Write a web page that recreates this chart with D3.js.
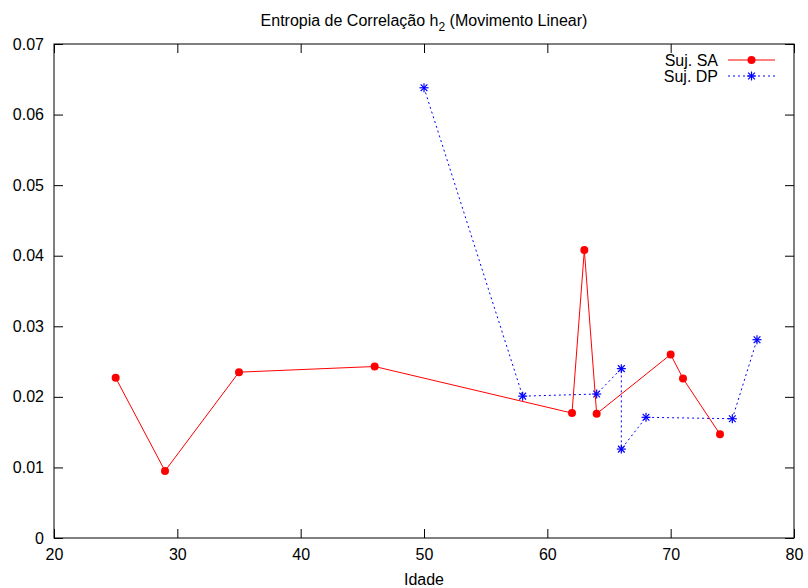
<!DOCTYPE html>
<html><head><meta charset="utf-8">
<script src="https://cdn.jsdelivr.net/npm/d3@7"></script>
<style>body{margin:0;background:#fff}svg{display:block}text{font-family:"Liberation Sans",Arial,sans-serif}</style>
</head><body><svg id="c" width="808" height="588"></svg>
<script>
const saAge = [25, 29, 35, 46, 62, 63, 64, 70, 71, 74];
const saVal = [0.0227, 0.0095, 0.0235, 0.0243, 0.0177, 0.0408, 0.0176, 0.0260, 0.0226, 0.0147];
const dpAge = [50, 58, 64, 66, 66, 68, 75, 77];
const dpVal = [0.0638, 0.0201, 0.0204, 0.0240, 0.0126, 0.0171, 0.0169, 0.0281];
const xTicks = [20, 30, 40, 50, 60, 70, 80];
const yTicks = [0, 0.01, 0.02, 0.03, 0.04, 0.05, 0.06, 0.07];

const svg = d3.select("#c");
const L = 54, R = 794, T = 44, B = 538;
const x = d3.scaleLinear().domain([20, 80]).range([L, R]);
const y = d3.scaleLinear().domain([0, 0.07]).range([B, T]);
const tk = 9;
const FS = 16;

// axes
const g = svg.append("g");
g.append("g").attr("transform", `translate(0,${B})`)
  .call(d3.axisBottom(x).tickValues(xTicks).tickSize(-tk).tickPadding(11).tickFormat(d3.format("d")));
g.append("g").attr("transform", `translate(0,${T})`)
  .call(d3.axisTop(x).tickValues(xTicks).tickSize(-tk).tickFormat(""));
g.append("g").attr("transform", `translate(${L},0)`)
  .call(d3.axisLeft(y).tickValues(yTicks).tickSize(-tk).tickPadding(10).tickFormat(d => d === 0 ? "0" : d3.format(".2f")(d)));
g.append("g").attr("transform", `translate(${R},0)`)
  .call(d3.axisRight(y).tickValues(yTicks).tickSize(-tk).tickFormat(""));
g.selectAll(".domain").remove();
g.selectAll(".tick line").attr("stroke", "#000");
g.selectAll(".tick text").attr("font-size", FS).attr("fill", "#000")
  .attr("font-family", '"Liberation Sans",Arial,sans-serif');
svg.append("rect").attr("x", L).attr("y", T).attr("width", R - L).attr("height", B - T)
  .attr("fill", "none").attr("stroke", "#000").attr("stroke-width", 1);

// title
const t = svg.append("text").attr("x", 424).attr("y", 26).attr("text-anchor", "middle").attr("font-size", 16);
t.append("tspan").text("Entropia de Correlação h");
t.append("tspan").attr("font-size", 12).attr("dy", 5).text("2");
t.append("tspan").attr("dy", -5).text(" (Movimento Linear)");

svg.append("text").attr("x", 424).attr("y", 585).attr("text-anchor", "middle").attr("font-size", FS).text("Idade");

const line = d3.line().x(d => x(d[0])).y(d => y(d[1]));
const sa = saAge.map((a, i) => [a, saVal[i]]);
const dp = dpAge.map((a, i) => [a, dpVal[i]]);

svg.append("path").datum(dp).attr("d", line).attr("fill", "none").attr("stroke", "#00f").attr("stroke-width", 1).attr("stroke-dasharray", "2,3");
svg.append("path").datum(sa).attr("d", line).attr("fill", "none").attr("stroke", "#f00").attr("stroke-width", 1);

function star(sel, cx, cy, s) {
  const gg = sel.append("g").attr("stroke", "#00f").attr("stroke-width", 1.2);
  gg.append("line").attr("x1", cx - s).attr("x2", cx + s).attr("y1", cy).attr("y2", cy);
  gg.append("line").attr("x1", cx).attr("x2", cx).attr("y1", cy - s).attr("y2", cy + s);
  gg.append("line").attr("x1", cx - s * 0.75).attr("x2", cx + s * 0.75).attr("y1", cy - s * 0.75).attr("y2", cy + s * 0.75);
  gg.append("line").attr("x1", cx - s * 0.75).attr("x2", cx + s * 0.75).attr("y1", cy + s * 0.75).attr("y2", cy - s * 0.75);
}
dp.forEach(d => star(svg, x(d[0]), y(d[1]), 4.5));
svg.selectAll("circle.sa").data(sa).enter().append("circle").attr("class", "sa")
  .attr("cx", d => x(d[0])).attr("cy", d => y(d[1])).attr("r", 4).attr("fill", "#f00");

// legend
const lx1 = 728, lx2 = 775;
svg.append("text").attr("x", 718).attr("y", 66).attr("text-anchor", "end").attr("font-size", FS).text("Suj. SA");
svg.append("line").attr("x1", lx1).attr("x2", lx2).attr("y1", 60).attr("y2", 60).attr("stroke", "#f00");
svg.append("circle").attr("cx", (lx1 + lx2) / 2).attr("cy", 60).attr("r", 4).attr("fill", "#f00");
svg.append("text").attr("x", 718).attr("y", 82).attr("text-anchor", "end").attr("font-size", FS).text("Suj. DP");
svg.append("line").attr("x1", lx1).attr("x2", lx2).attr("y1", 76).attr("y2", 76).attr("stroke", "#00f").attr("stroke-dasharray", "2,3");
star(svg, (lx1 + lx2) / 2, 76, 4.5);
</script></body></html>
